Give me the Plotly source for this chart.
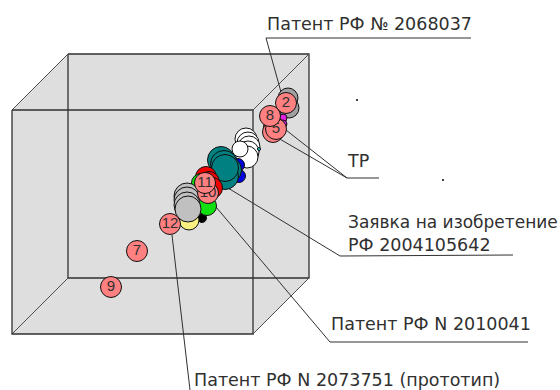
import plotly.graph_objects as go

# cube corners
front_x = [12, 253, 253, 12, 12]
front_y = [110, 110, 334, 334, 110]
back_x = [68, 309, 309, 68, 68]
back_y = [54, 54, 278, 278, 54]
hull_x = [12, 68, 309, 309, 253, 12, 12]
hull_y = [110, 54, 54, 278, 334, 334, 110]

# bubbles without a number, back to front
gray2_x = [288, 289]
gray2_y = [98, 108]
magenta_x = [283, 283]
magenta_y = [118, 124]
white_x = [246, 248, 249, 248, 247]
white_y = [139, 143, 147, 152, 157]
white2_x = [240]
white2_y = [149]
cyan_x = [259]
cyan_y = [149]
blue_x = [238, 239]
blue_y = [165, 176]
teal_x = [221, 224, 228, 225, 225]
teal_y = [160, 164, 170, 176, 168]
black_x = [202]
black_y = [218]
yellow_x = [189]
yellow_y = [220]
red_x = [206, 209, 212]
red_y = [177, 182, 188]
green_x = [201, 204, 207]
green_y = [183, 195, 206]
gray_x = [187, 187, 187, 188]
gray_y = [196, 200, 205, 209]

# numbered pink bubbles
pink_x = [274, 273, 276, 208, 205, 286, 270, 170, 137, 111]
pink_y = [127, 132, 129, 193, 183, 103, 116, 224, 251, 287]
pink_txt = ["", "", "5", "10", "11", "2", "8", "12", "7", "9"]

# leader lines: two ends per line
leader_x = [[266, 281], [266, 471], [347, 286], [347, 278], [347, 379],
            [340, 228], [340, 513], [330, 216], [330, 528], [190, 172]]
leader_y = [[38, 92], [38, 38], [178, 130], [178, 138], [178, 178],
            [256, 188], [256, 255], [342, 207], [342, 342], [390, 235]]

label_txt = ["Патент РФ № 2068037", "ТР", "Заявка на изобретение",
             "РФ 2004105642", "Патент РФ N 2010041", "Патент РФ N 2073751 (прототип)"]
label_x = [266, 346, 347, 347, 330, 193]
label_y = [24, 161, 222, 245, 324, 380]
label_size = [17.5, 17.5, 17, 17.5, 17.5, 17.5]

speck_x = [357, 443]
speck_y = [100, 180]

fig = go.Figure()

fig.add_trace(go.Scatter(x=hull_x, y=hull_y, mode="none", fill="toself", fillcolor="#dedede"))

# back frame and the four depth edges
line_style = dict(color="#303030", width=1.3)
fig.add_trace(go.Scatter(x=back_x, y=back_y, mode="lines", line=line_style))
for i in range(4):
    fig.add_trace(go.Scatter(x=[front_x[i], back_x[i]], y=[front_y[i], back_y[i]], mode="lines",
                             line=dict(color="#505050", width=1)))
fig.add_trace(go.Scatter(x=front_x, y=front_y, mode="lines", line=line_style))

for i in range(len(leader_x)):
    fig.add_trace(go.Scatter(x=leader_x[i], y=leader_y[i], mode="lines",
                             line=dict(color="#303030", width=1)))


def bubbles(xs, ys, color, size):
    fig.add_trace(go.Scatter(x=xs, y=ys, mode="markers",
                             marker=dict(size=size, color=color, line=dict(color="#101010", width=1))))


bubbles(gray2_x, gray2_y, "#a0a0a0", 20)
bubbles(magenta_x, magenta_y, "#e020e0", 8)
bubbles(white_x, white_y, "#ffffff", 22)
bubbles(white2_x, white2_y, "#ffffff", 16)
bubbles(cyan_x, cyan_y, "#20d0d0", 3)
bubbles(blue_x, blue_y, "#0000e0", 13)
bubbles(teal_x, teal_y, "#008080", 27)
bubbles(black_x, black_y, "#000000", 9)
bubbles(yellow_x, yellow_y, "#f8f080", 20)
bubbles(red_x, red_y, "#f00000", 21)
bubbles(green_x, green_y, "#10e010", 19)
bubbles(gray_x, gray_y, "#c0c0c0", 26)

# one trace per pink bubble so that a later bubble hides the number of an earlier one
for i in range(len(pink_x)):
    fig.add_trace(go.Scatter(x=[pink_x[i]], y=[pink_y[i]], mode="markers+text", text=[pink_txt[i]],
                             textposition="middle center",
                             textfont=dict(family="Liberation Sans", size=15, color="#303030"),
                             marker=dict(size=21, color="#ff8080", line=dict(color="#101010", width=1))))

fig.add_trace(go.Scatter(x=speck_x, y=speck_y, mode="markers",
                         marker=dict(size=2, color="#404040", symbol="square")))

for t, x, y, s in zip(label_txt, label_x, label_y, label_size):
    fig.add_annotation(x=x, y=y, text=t, showarrow=False, xanchor="left", yanchor="middle",
                       xshift=-1, font=dict(family="DejaVu Sans", size=s, color="#303030"))

fig.update_layout(width=560, height=390, margin=dict(l=0, r=0, t=0, b=0), showlegend=False,
                  paper_bgcolor="white", plot_bgcolor="white")
fig.update_xaxes(range=[0, 560], visible=False)
fig.update_yaxes(range=[390, 0], visible=False)

fig.write_html("out.html", post_script="document.body.style.margin='0';",
               config=dict(displayModeBar=False))
